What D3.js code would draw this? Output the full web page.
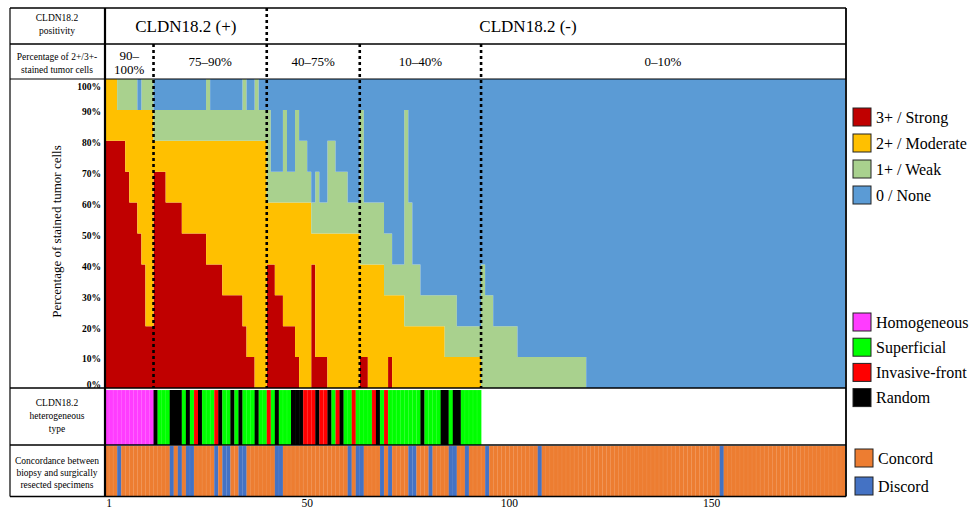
<!DOCTYPE html>
<html>
<head>
<meta charset="utf-8">
<script src="https://cdn.jsdelivr.net/npm/d3@7/dist/d3.min.js"></script>
<style>
  body { margin: 0; background: #fff; }
  svg text { font-family: "Liberation Serif", "Times New Roman", Times, "DejaVu Serif", serif; fill: #000; }
</style>
</head>
<body>
<svg id="chart" width="971" height="511" font-family="Liberation Serif, Times New Roman, serif"></svg>
<script>
// --- data (one value per patient) ---
const strong = [
  80, 80, 80, 80, 80, 70, 60, 60, 50, 40, 20, 20,
  70, 70, 70, 60, 60, 60, 60, 50, 50, 50, 50, 50, 50, 40, 40, 40, 40, 30, 30, 30, 30, 30, 20, 10, 10, 0, 0, 0,
  40, 40, 30, 30, 20, 20, 20, 10, 0, 0, 0, 40, 10, 10, 10, 0, 0, 0, 0, 0, 0, 0, 0,
  10, 10, 0, 0, 0, 0, 0, 10, 0, 0, 0, 0, 0, 0, 0, 0, 0, 0, 0, 0, 0, 0, 0, 0, 0, 0, 0, 0, 0, 0,
  0, 0, 0, 0, 0, 0, 0, 0, 0, 0, 0, 0, 0, 0, 0, 0, 0, 0, 0, 0, 0, 0, 0, 0, 0, 0, 0, 0, 0, 0,
  0, 0, 0, 0, 0, 0, 0, 0, 0, 0, 0, 0, 0, 0, 0, 0, 0, 0, 0, 0, 0, 0, 0, 0, 0, 0, 0, 0, 0, 0,
  0, 0, 0, 0, 0, 0, 0, 0, 0, 0, 0, 0, 0, 0, 0, 0, 0, 0, 0, 0, 0, 0, 0, 0, 0, 0, 0, 0, 0, 0
];
const moderate = [
  20, 20, 20, 10, 10, 20, 30, 30, 40, 50, 70, 70,
  10, 10, 10, 20, 20, 20, 20, 30, 30, 30, 30, 30, 30, 40, 40, 40, 40, 50, 50, 50, 50, 50, 60, 70, 70, 80, 80, 80,
  20, 20, 30, 30, 40, 40, 40, 50, 60, 60, 60, 10, 40, 40, 40, 50, 50, 50, 50, 50, 50, 50, 50,
  30, 30, 40, 40, 40, 40, 30, 20, 30, 30, 30, 20, 20, 20, 20, 20, 20, 20, 20, 20, 20, 10, 10, 10, 10, 10, 10, 10, 10, 10,
  0, 0, 0, 0, 0, 0, 0, 0, 0, 0, 0, 0, 0, 0, 0, 0, 0, 0, 0, 0, 0, 0, 0, 0, 0, 0, 0, 0, 0, 0,
  0, 0, 0, 0, 0, 0, 0, 0, 0, 0, 0, 0, 0, 0, 0, 0, 0, 0, 0, 0, 0, 0, 0, 0, 0, 0, 0, 0, 0, 0,
  0, 0, 0, 0, 0, 0, 0, 0, 0, 0, 0, 0, 0, 0, 0, 0, 0, 0, 0, 0, 0, 0, 0, 0, 0, 0, 0, 0, 0, 0
];
const weak = [
  0, 0, 0, 10, 10, 10, 10, 10, 0, 10, 10, 10,
  10, 10, 10, 10, 10, 10, 10, 10, 10, 10, 10, 10, 10, 20, 10, 10, 10, 10, 10, 10, 10, 10, 20, 10, 10, 20, 10, 10,
  30, 10, 10, 10, 30, 10, 10, 30, 20, 20, 10, 10, 20, 10, 10, 30, 30, 20, 20, 20, 10, 10, 10,
  50, 20, 20, 20, 20, 20, 20, 20, 10, 10, 10, 70, 40, 20, 20, 10, 10, 10, 10, 10, 10, 20, 20, 20, 10, 10, 10, 10, 10, 10,
  40, 30, 30, 20, 20, 20, 20, 20, 20, 10, 10, 10, 10, 10, 10, 10, 10, 10, 10, 10, 10, 10, 10, 10, 10, 10, 0, 0, 0, 0,
  0, 0, 0, 0, 0, 0, 0, 0, 0, 0, 0, 0, 0, 0, 0, 0, 0, 0, 0, 0, 0, 0, 0, 0, 0, 0, 0, 0, 0, 0,
  0, 0, 0, 0, 0, 0, 0, 0, 0, 0, 0, 0, 0, 0, 0, 0, 0, 0, 0, 0, 0, 0, 0, 0, 0, 0, 0, 0, 0, 0
];

// heterogeneous type, patients 1-93 (H homogeneous, S superficial, I invasive-front, R random)
const heteroType = [
  'H','H','H','H','H','H','H','H','H','H','H','H',
  'R','S','S','S','R','R','R','S','R','S','I','R','S','S','S','I','R','S','S','R','S','R','S','S','S','R','S','S',
  'I','S','R','S','S','S','R','R','R','I','I','I','R','I','I','R','S','I','R','S','S','I','S',
  'S','S','S','I','R','S','I','S','S','S','S','S','S','S','S','R','S','S','S','S','R','R','S','R','R','S','S','S','S','S'
];

// patients whose biopsy and resected specimen disagree
const discordPatients = [4, 17, 19, 21, 22, 28, 30, 31, 34, 35, 43, 44, 61, 63, 64, 69, 71, 76, 77, 81, 86, 87, 90, 95, 108, 153];

const groupSizes = [12, 28, 23, 30, 90];
const groupLabels = [['90–', '100%'], ['75–90%'], ['40–75%'], ['10–40%'], ['0–10%']];
const yTicks = [0, 10, 20, 30, 40, 50, 60, 70, 80, 90, 100];
const xTicks = [1, 50, 100, 150];

const intensityKeys = ['strong', 'moderate', 'weak', 'none'];
const intensityNames = ['3+ / Strong', '2+ / Moderate', '1+ / Weak', '0 / None'];
const heteroKeys = ['H', 'S', 'I', 'R'];
const heteroNames = ['Homogeneous', 'Superficial', 'Invasive-front', 'Random'];
const concordNames = ['Concord', 'Discord'];

// --- colours ---
const intensityColor = d3.scaleOrdinal().domain(intensityKeys).range(['#C00000', '#FFC000', '#A9D18E', '#5B9BD5']);
const heteroColor = d3.scaleOrdinal().domain(heteroKeys).range(['#FF3CFF', '#00FF00', '#FF0000', '#000000']);
const concordColor = d3.scaleOrdinal().domain(concordNames).range(['#ED7D31', '#4472C4']);

// --- layout ---
const L = {
  left: 10, axisX: 105, right: 845, border: 846,
  top: 8, row1: 44, row2: 79, chartBottom: 388,
  hetTop: 390, hetBottom: 445, conTop: 446, conBottom: 496.5
};

const svg = d3.select('#chart');
svg.append('rect').attr('width', 971).attr('height', 511).attr('fill', '#fff');

const patients = d3.range(1, strong.length + 1);
const x = d3.scaleBand().domain(patients).range([L.axisX, L.right]);
const y = d3.scaleLinear().domain([0, 100]).range([L.chartBottom, L.row2]);
const bw = x.bandwidth();

const rows = patients.map((p, i) => ({
  p,
  strong: strong[i],
  moderate: moderate[i],
  weak: weak[i],
  none: 100 - strong[i] - moderate[i] - weak[i]
}));
const series = d3.stack().keys(intensityKeys)(rows);

// stacked bars drawn as one stepped area per layer (no seams between patients)
const stepArea = d3.area()
  .x(pt => pt.x)
  .y0(pt => y(pt.d[0]))
  .y1(pt => y(pt.d[1]));

svg.append('g')
  .selectAll('path')
  .data(series)
  .join('path')
  .attr('fill', s => intensityColor(s.key))
  .attr('d', s => stepArea(s.flatMap(d => [
    { x: x(d.data.p), d },
    { x: x(d.data.p) + bw, d }
  ])));

// heterogeneous type row
svg.append('g')
  .selectAll('rect')
  .data(heteroType)
  .join('rect')
  .attr('x', (d, i) => x(i + 1))
  .attr('width', bw + 0.35)
  .attr('y', L.hetTop)
  .attr('height', L.hetBottom - L.hetTop)
  .attr('fill', d => heteroColor(d))
  .attr('stroke', d => d === 'R' ? 'none' : '#fff')
  .attr('stroke-opacity', 0.18)
  .attr('stroke-width', 0.5);

// concordance row
const concord = patients.map(p => discordPatients.includes(p) ? 'Discord' : 'Concord');
svg.append('g')
  .selectAll('rect')
  .data(concord)
  .join('rect')
  .attr('x', (d, i) => x(i + 1))
  .attr('width', bw + 0.35)
  .attr('y', L.conTop)
  .attr('height', L.conBottom - L.conTop)
  .attr('fill', d => concordColor(d))
  .attr('stroke', '#fff')
  .attr('stroke-opacity', 0.15)
  .attr('stroke-width', 0.5);

// table frame
const frame = svg.append('g').attr('stroke', '#000').attr('fill', 'none');
[L.top, L.row1, L.row2, L.chartBottom, L.hetBottom, L.conBottom].forEach(yy => {
  frame.append('line').attr('x1', L.left).attr('x2', L.border).attr('y1', yy).attr('y2', yy)
    .attr('stroke-width', yy === L.row2 ? 1.2 : 1.5);
});
frame.append('line').attr('x1', L.left).attr('x2', L.left).attr('y1', L.top).attr('y2', L.conBottom).attr('stroke-width', 1.2);
frame.append('line').attr('x1', L.border).attr('x2', L.border).attr('y1', L.top).attr('y2', L.conBottom).attr('stroke-width', 1.8);
frame.append('line').attr('x1', L.axisX).attr('x2', L.axisX).attr('y1', L.top).attr('y2', L.conBottom).attr('stroke-width', 2.2);

// group boundaries (dotted)
const bounds = d3.cumsum(groupSizes);
const groupEdges = [0, ...bounds].map(b => b === 0 ? L.axisX : (b >= patients.length ? L.right : x(b + 1)));
bounds.slice(0, -1).forEach((b, i) => {
  svg.append('line')
    .attr('x1', groupEdges[i + 1]).attr('x2', groupEdges[i + 1])
    .attr('y1', i === 1 ? L.top : L.row1).attr('y2', L.chartBottom)
    .attr('stroke', '#000').attr('stroke-width', 2.6).attr('stroke-dasharray', '3 3');
});

// header texts
svg.append('text').attr('x', (groupEdges[0] + groupEdges[2]) / 2).attr('y', 32)
  .attr('text-anchor', 'middle').attr('font-size', 17).text('CLDN18.2 (+)');
svg.append('text').attr('x', 528).attr('y', 32)
  .attr('text-anchor', 'middle').attr('font-size', 17).text('CLDN18.2 (-)');

groupLabels.forEach((lines, i) => {
  const cx = (groupEdges[i] + groupEdges[i + 1]) / 2;
  const t = svg.append('text').attr('text-anchor', 'middle').attr('font-size', 13);
  const y0 = lines.length === 1 ? 66 : 60;
  lines.forEach((s, j) => t.append('tspan').attr('x', cx).attr('y', y0 + j * 14).text(s));
});

// left column labels
function multiline(lines, cx, y0, dy, size) {
  const t = svg.append('text').attr('text-anchor', 'middle').attr('font-size', size);
  lines.forEach((s, j) => t.append('tspan').attr('x', cx).attr('y', y0 + j * dy).text(s));
}
multiline(['CLDN18.2', 'positivity'], 57, 21, 13, 9.5);
multiline(['Percentage of 2+/3+-', 'stained tumor cells'], 57, 60, 13, 9.5);
multiline(['CLDN18.2', 'heterogeneous', 'type'], 57, 406, 13, 9.5);
multiline(['Concordance between', 'biopsy and surgically', 'resected specimens'], 57, 464, 12, 9.5);

// y axis
svg.append('text')
  .attr('transform', `translate(61,${(L.row2 + L.chartBottom) / 2 - 2}) rotate(-90)`)
  .attr('text-anchor', 'middle').attr('font-size', 13)
  .text('Percentage of stained tumor cells');

svg.append('g')
  .selectAll('text')
  .data(yTicks)
  .join('text')
  .attr('x', 101)
  .attr('y', d => Math.min(Math.max(y(d) + 2, 87), 384.5))
  .attr('dy', '0.35em')
  .attr('text-anchor', 'end')
  .attr('font-size', 9.5)
  .attr('font-weight', 'bold')
  .text(d => d + '%');

// x axis labels
svg.append('g')
  .selectAll('text')
  .data(xTicks)
  .join('text')
  .attr('x', d => x(d) + bw / 2 + 2)
  .attr('y', 507)
  .attr('text-anchor', 'middle')
  .attr('font-size', 11.5)
  .text(d => d);

// legends
function legend(names, colorFn, keys, xs, ys, gap, size) {
  const g = svg.append('g');
  names.forEach((n, i) => {
    const cy = ys + i * gap;
    g.append('rect').attr('x', xs).attr('y', cy - 9).attr('width', 18).attr('height', 18)
      .attr('fill', colorFn(keys[i])).attr('stroke', '#222').attr('stroke-width', 1);
    g.append('text').attr('x', xs + 23).attr('y', cy).attr('dy', '0.35em')
      .attr('font-size', size).text(n);
  });
}
legend(intensityNames, intensityColor, intensityKeys, 853, 117, 26, 16);
legend(heteroNames, heteroColor, heteroKeys, 853, 322, 25.2, 16);
legend(concordNames, concordColor, concordNames, 855, 458, 28, 16);
</script>
</body>
</html>
